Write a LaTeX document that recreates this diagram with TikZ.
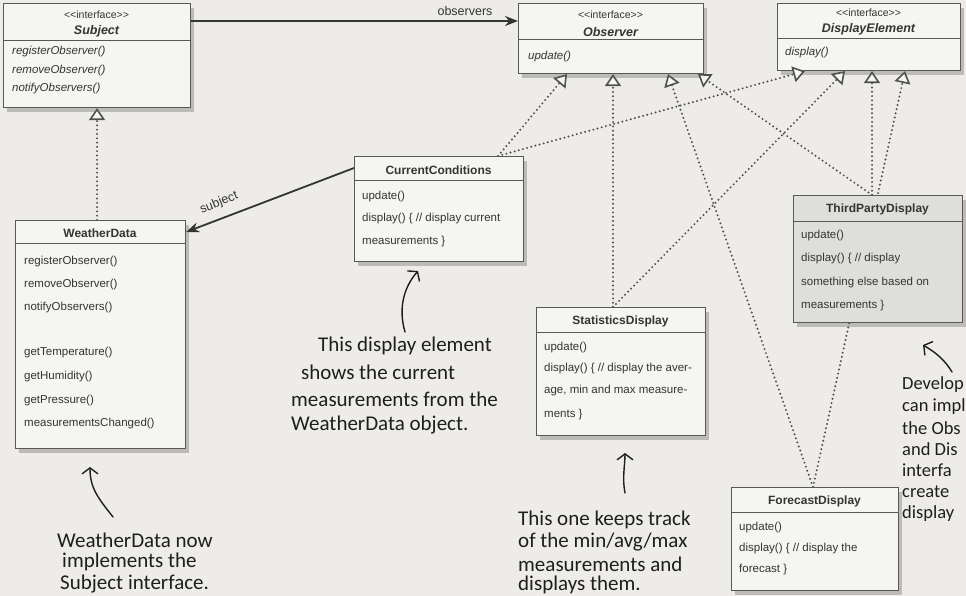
\documentclass[tikz,border=0pt]{standalone}
\usepackage{fontspec}
\setmainfont{Liberation Sans}
\newfontfamily\handfont{Carlito}
\usetikzlibrary{arrows.meta,shadows,calc}
\pgfdeclarelayer{back}
\pgfdeclarelayer{lines}
\pgfsetlayers{back,lines,main}

\definecolor{paper}{RGB}{237,236,232}
\definecolor{boxfill}{RGB}{245,245,242}
\definecolor{boxgray}{RGB}{222,222,219}
\definecolor{edge}{RGB}{88,88,88}
\definecolor{dotc}{RGB}{80,80,80}
\definecolor{ink}{RGB}{52,52,52}
\definecolor{handink}{RGB}{30,30,30}

\tikzset{
  umlbox/.style={draw=edge, line width=1.1pt, fill=boxfill, rectangle, anchor=north west, inner sep=0pt,
    drop shadow={opacity=0.3, fill=black!70, shadow xshift=3pt, shadow yshift=-4pt}},
  sepline/.style={draw=edge, line width=1pt},
  ctitle/.style={font=\fontsize{12}{14}\selectfont\bfseries, text=ink, inner sep=0pt},
  ititle/.style={font=\fontsize{12.5}{14}\selectfont\bfseries\itshape, text=ink, inner sep=0pt},
  stereo/.style={font=\fontsize{10.5}{12}\selectfont, text=ink, inner sep=0pt},
  item/.style={font=\fontsize{11.5}{13}\selectfont, text=ink, anchor=west, inner sep=0pt},
  iitem/.style={font=\fontsize{11.5}{13}\selectfont\itshape, text=ink, anchor=west, inner sep=0pt},
  realize/.style={draw=dotc, line width=2.2pt, dash pattern=on 0pt off 4.3pt, line cap=round,
    -{Triangle[length=12pt,width=16pt,fill=boxfill,line width=1.6pt]}},
  assoc/.style={draw=ink, line width=1.8pt, -{Stealth[length=13pt,width=10pt]}},
  lbl/.style={font=\fontsize{12.5}{14}\selectfont, text=ink, inner sep=0pt},
  hand/.style={font=\handfont\fontsize{21}{24}\selectfont, text=handink, anchor=west, inner sep=0pt},
  handsmall/.style={font=\handfont\fontsize{18.5}{22}\selectfont, text=handink, anchor=west, inner sep=0pt},
  handarrow/.style={draw=handink, line width=1.4pt, line cap=round,
    -{Straight Barb[length=6pt,width=16pt,line width=1.4pt]}},
}
\newcommand\umlsep[2]{\draw[sepline] (#1.west |- 0,#2) -- (#1.east |- 0,#2);}

\begin{document}
\begin{tikzpicture}[x=1pt,y=-1pt]
\useasboundingbox (0,0) rectangle (966,596);

\begin{pgfonlayer}{back}
\fill[paper] (0,0) rectangle (966,596);
% Subject
\node[umlbox, minimum width=187pt, minimum height=104pt] (subj) at (3,3) {};
\umlsep{subj}{41}
\node[stereo] (subjS) at (96.5,15) {<\kern0pt<interface>\kern0pt>};
\node[ititle] (subjT) at (96.5,31) {Subject};
\node[iitem] (subj1) at (12,52) {registerObserver()};
\node[iitem] (subj2) at (12,71) {removeObserver()};
\node[iitem] (subj3) at (12,89) {notifyObservers()};
% Observer
\node[umlbox, minimum width=185pt, minimum height=70pt] (obs) at (518,3) {};
\umlsep{obs}{40}
\node[stereo] (obsS) at (610.5,15) {<\kern0pt<interface>\kern0pt>};
\node[ititle] (obsT) at (610.5,32) {Observer};
\node[iitem] (obs1) at (528,57) {update()};
% DisplayElement
\node[umlbox, minimum width=183pt, minimum height=67pt] (de) at (777,3) {};
\umlsep{de}{39}
\node[stereo] (deS) at (868.5,13) {<\kern0pt<interface>\kern0pt>};
\node[ititle] (deT) at (868.5,29) {DisplayElement};
\node[iitem] (de1) at (785,53) {display()};
\end{pgfonlayer}

% WeatherData
\node[umlbox, minimum width=170pt, minimum height=228pt] (wd) at (15,220) {};
\umlsep{wd}{243}
\node[ctitle] (wdT) at (100,233) {WeatherData};
\node[item] (wd1) at (24,262) {registerObserver()};
\node[item] (wd2) at (24,285) {removeObserver()};
\node[item] (wd3) at (24,308) {notifyObservers()};
\node[item] (wd4) at (24,353) {getTemperature()};
\node[item] (wd5) at (24,377) {getHumidity()};
\node[item] (wd6) at (24,401) {getPressure()};
\node[item] (wd7) at (24,424) {measurementsChanged()};

% CurrentConditions
\node[umlbox, minimum width=169pt, minimum height=105pt] (cc) at (354,156) {};
\umlsep{cc}{181}
\node[ctitle] (ccT) at (438.5,170) {CurrentConditions};
\node[item] (cc1) at (362,197) {update()};
\node[item] (cc2) at (362,219) {display() \{ // display current};
\node[item] (cc3) at (362,242) {measurements \}};

% StatisticsDisplay
\node[umlbox, minimum width=169pt, minimum height=128pt] (sd) at (536,307) {};
\umlsep{sd}{332}
\node[ctitle] (sdT) at (620.5,321) {StatisticsDisplay};
\node[item] (sd1) at (544,348) {update()};
\node[item] (sd2) at (544,369) {display() \{ // display the aver-};
\node[item] (sd3) at (544,391) {age, min and max measure-};
\node[item] (sd4) at (544,415) {ments \}};

% ThirdPartyDisplay
\node[umlbox, fill=boxgray, minimum width=169pt, minimum height=127pt] (tpd) at (793,195) {};
\umlsep{tpd}{221}
\node[ctitle] (tpdT) at (877.5,209) {ThirdPartyDisplay};
\node[item] (tpd1) at (801,236) {update()};
\node[item] (tpd2) at (801,259) {display() \{ // display};
\node[item] (tpd3) at (801,283) {something else based on};
\node[item] (tpd4) at (801,306) {measurements \}};

% ForecastDisplay
\node[umlbox, minimum width=167pt, minimum height=103pt] (fd) at (731,487) {};
\umlsep{fd}{512}
\node[ctitle] (fdT) at (814.5,501) {ForecastDisplay};
\node[item] (fd1) at (739,528) {update()};
\node[item] (fd2) at (739,549) {display() \{ // display the};
\node[item] (fd3) at (739,570) {forecast \}};

% connectors
\begin{pgfonlayer}{lines}
\draw[realize] (subj.south |- wd.north) -- (subj.south);
\coordinate (oa) at ([yshift=-18pt]subj.north east);
\draw[assoc] (oa) -- (oa -| obs.west);
\node[lbl] (obsl) at (465,11) {observers};
\draw[assoc] ([yshift=-12pt]cc.north west) -- ([yshift=-12pt]wd.north east);
\node[lbl, rotate=22] (subl) at (219,203) {subject};
% CurrentConditions
\draw[realize] ([xshift=-26pt]cc.north east) -- ([xshift=49pt]obs.south west);
\draw[realize] ([xshift=-26pt]cc.north east) -- ([xshift=28pt]de.south west);
% StatisticsDisplay
\draw[realize] ([xshift=77pt]sd.north west) -- ([xshift=95pt]obs.south west);
\draw[realize] ([xshift=77pt]sd.north west) -- ([xshift=68pt]de.south west);
% ThirdPartyDisplay
\draw[realize] ([xshift=79pt]tpd.north west) -- ([xshift=180pt]obs.south west);
\draw[realize] ([xshift=79pt]tpd.north west) -- ([xshift=95pt]de.south west);
% ForecastDisplay
\draw[realize] ([xshift=82pt]fd.north west) -- ([xshift=150pt]obs.south west);
\draw[realize] ([xshift=82pt]fd.north west) -- ([xshift=128pt]de.south west);
\end{pgfonlayer}

% annotations
\node[hand] (a11) at (318,346) {This display element};
\node[hand] (a12) at (301,372) {shows the current};
\node[hand] (a13) at (291,399) {measurements from the};
\node[hand] (a14) at (291,425) {WeatherData object.};
\coordinate (a1s) at (405,332);
\coordinate (a1e) at (418,271);
\draw[handarrow] (a1s) .. controls (398,308) and (404,287) .. (a1e);

\node[hand] (a21) at (57,540) {WeatherData now};
\node[hand] (a22) at (62,562) {implements the};
\node[hand] (a23) at (60,584) {Subject interface.};
\coordinate (a2s) at (113,517);
\coordinate (a2e) at (90,467);
\draw[handarrow] (a2s) .. controls (98,498) and (90,488) .. (a2e);

\node[hand] (a31) at (518,520) {This one keeps track};
\node[hand] (a32) at (518,542) {of the min/avg/max};
\node[hand] (a33) at (518,564) {measurements and};
\node[hand] (a34) at (518,585) {displays them.};
\coordinate (a3s) at (625,493);
\coordinate (a3e) at (625,453);
\draw[handarrow] (a3s) .. controls (622,478) and (625,465) .. (a3e);

\node[handsmall] (a41) at (902,385) {Develop};
\node[handsmall] (a42) at (902,407) {can impl};
\node[handsmall] (a43) at (902,428) {the Obs};
\node[handsmall] (a44) at (902,449) {and Dis};
\node[handsmall] (a45) at (902,470) {interfa};
\node[handsmall] (a46) at (902,492) {create};
\node[handsmall] (a47) at (902,514) {display};
\coordinate (a4s) at (952,372);
\coordinate (a4e) at (923,345);
\draw[handarrow] (a4s) .. controls (945,360) and (935,352) .. (a4e);
\end{tikzpicture}
\end{document}
